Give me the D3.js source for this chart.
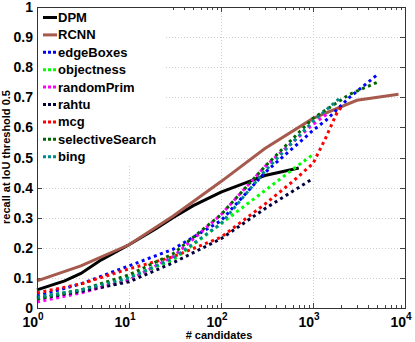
<!DOCTYPE html>
<html>
<head>
<meta charset="utf-8">
<script src="https://cdn.jsdelivr.net/npm/d3@7"></script>
<style>
  body { margin: 0; background: #fff; }
  svg { display: block; font-family: "Liberation Sans", Arial, sans-serif; font-weight: bold; }
  .grid line { stroke: #cfcfcf; stroke-width: 1; stroke-dasharray: 1,2; }
</style>
</head>
<body>
<svg id="chart" width="415" height="342"></svg>
<script>
// recall vs number of candidates
var seriesNames = ['DPM', 'RCNN', 'edgeBoxes', 'objectness', 'randomPrim', 'rahtu', 'mcg', 'selectiveSearch', 'bing'];
var seriesColors = ['#000000', '#a65a4e', '#0000ff', '#00ff00', '#ff00ff', '#00003c', '#ff0000', '#006400', '#008b8b'];
var seriesDotted = [false, false, true, true, true, true, true, true, true];

var candDPM = [1, 2, 3, 5, 10, 20, 30, 50, 100, 200, 300, 500, 700];
var recDPM  = [0.06, 0.09, 0.115, 0.16, 0.21, 0.265, 0.30, 0.34, 0.385, 0.42, 0.44, 0.455, 0.465];
var candRCNN = [1, 3, 10, 30, 100, 300, 1000, 3000, 8500];
var recRCNN  = [0.09, 0.14, 0.21, 0.305, 0.42, 0.53, 0.63, 0.69, 0.71];
var candEdge = [1, 3, 10, 30, 100, 300, 1000, 1400, 2500, 5000];
var recEdge  = [0.04, 0.08, 0.14, 0.195, 0.29, 0.45, 0.59, 0.625, 0.70, 0.775];
var candObj = [1, 3, 10, 30, 100, 300, 600, 1000];
var recObj  = [0.035, 0.06, 0.10, 0.16, 0.28, 0.39, 0.46, 0.51];
var candRP = [1, 3, 10, 30, 100, 300, 1000, 1500];
var recRP  = [0.02, 0.05, 0.093, 0.17, 0.31, 0.47, 0.61, 0.65];
var candRahtu = [1, 3, 10, 30, 100, 300, 1000];
var recRahtu  = [0.03, 0.055, 0.087, 0.15, 0.23, 0.33, 0.43];
var candMCG = [1, 3, 10, 30, 100, 300, 600, 1000, 1350, 1800, 2050];
var recMCG  = [0.05, 0.08, 0.13, 0.17, 0.235, 0.345, 0.42, 0.48, 0.56, 0.645, 0.67];
var candSS = [1, 3, 10, 30, 100, 300, 1000, 2500, 5000];
var recSS  = [0.03, 0.06, 0.11, 0.18, 0.31, 0.47, 0.63, 0.71, 0.75];
var candBing = [1, 3, 10, 30, 100, 300, 1000, 2000];
var recBing  = [0.035, 0.06, 0.10, 0.165, 0.28, 0.455, 0.62, 0.70];

var allCand = [candDPM, candRCNN, candEdge, candObj, candRP, candRahtu, candMCG, candSS, candBing];
var allRec  = [recDPM, recRCNN, recEdge, recObj, recRP, recRahtu, recMCG, recSS, recBing];

var xTickExps = [0, 1, 2, 3, 4];
var yTicks = [0, 0.1, 0.2, 0.3, 0.4, 0.5, 0.6, 0.7, 0.8, 0.9, 1];

(function() {

var svg = d3.select('#chart');
var pL = 37, pR = 405, pT = 7, pB = 308;

var x = d3.scaleLog().domain([1, 1e4]).range([pL, pR]);
var y = d3.scaleLinear().domain([0, 1]).range([pB, pT]);

// grid
var grid = svg.append('g').attr('class', 'grid');
grid.selectAll('.gx').data(xTickExps.slice(1, -1)).enter().append('line')
    .attr('x1', function(d) { return Math.round(x(Math.pow(10, d))) + 0.5; })
    .attr('x2', function(d) { return Math.round(x(Math.pow(10, d))) + 0.5; })
    .attr('y1', pT).attr('y2', pB);
grid.selectAll('.gy').data(yTicks.slice(1, -1)).enter().append('line')
    .attr('y1', function(d) { return Math.round(y(d)) + 0.5; })
    .attr('y2', function(d) { return Math.round(y(d)) + 0.5; })
    .attr('x1', pL).attr('x2', pR);

// minor + major ticks, inward, on all four sides
var minor = [];
for (var e = 0; e < 4; e++) {
    for (var m = 2; m <= 9; m++) minor.push(m * Math.pow(10, e));
}
var ticks = svg.append('g').attr('stroke', '#444').attr('stroke-width', 1);
[pB, pT].forEach(function(yy) {
    var dir = yy === pB ? -1 : 1;
    ticks.append('g').selectAll('line').data(minor).enter().append('line')
        .attr('x1', function(d) { return Math.round(x(d)) + 0.5; })
        .attr('x2', function(d) { return Math.round(x(d)) + 0.5; })
        .attr('y1', yy).attr('y2', yy + dir * 3);
    ticks.append('g').selectAll('line').data(xTickExps).enter().append('line')
        .attr('x1', function(d) { return Math.round(x(Math.pow(10, d))) + 0.5; })
        .attr('x2', function(d) { return Math.round(x(Math.pow(10, d))) + 0.5; })
        .attr('y1', yy).attr('y2', yy + dir * 5);
});
[pL, pR].forEach(function(xx) {
    var dir = xx === pL ? 1 : -1;
    ticks.append('g').selectAll('line').data(yTicks).enter().append('line')
        .attr('y1', function(d) { return Math.round(y(d)) + 0.5; })
        .attr('y2', function(d) { return Math.round(y(d)) + 0.5; })
        .attr('x1', xx).attr('x2', xx + dir * 5);
});

// series
var line = d3.line()
    .x(function(d) { return x(d[0]); })
    .y(function(d) { return y(d[1]); });

seriesNames.forEach(function(name, i) {
    var pts = allCand[i].map(function(c, j) { return [c, allRec[i][j]]; });
    svg.append('path')
        .datum(pts)
        .attr('fill', 'none')
        .attr('stroke', seriesColors[i])
        .attr('stroke-width', 3)
        .attr('stroke-dasharray', seriesDotted[i] ? '3,3.5' : null)
        .attr('d', line);
});

// frame
svg.append('rect')
    .attr('x', pL + 0.5).attr('y', pT + 0.5)
    .attr('width', pR - pL).attr('height', pB - pT)
    .attr('fill', 'none').attr('stroke', '#333');

// y tick labels
svg.append('g').selectAll('text').data(yTicks).enter().append('text')
    .attr('x', 33)
    .attr('y', function(d) { return y(d) + 5; })
    .attr('text-anchor', 'end')
    .attr('font-size', 14)
    .text(function(d) { return d === 0 || d === 1 ? String(d) : d.toFixed(1); });

// x tick labels 10^n
var xl = svg.append('g').selectAll('text').data(xTickExps).enter().append('text')
    .attr('x', function(d) { return x(Math.pow(10, d)) - 4; })
    .attr('y', 327)
    .attr('text-anchor', 'middle')
    .attr('font-size', 14);
xl.append('tspan').text('10');
xl.append('tspan').attr('dy', -7).attr('font-size', 10).text(function(d) { return d; });

// axis titles
svg.append('text')
    .attr('x', 219).attr('y', 339)
    .attr('text-anchor', 'middle')
    .attr('font-size', 11)
    .text('# candidates');
svg.append('text')
    .attr('transform', 'translate(10,157) rotate(-90)')
    .attr('text-anchor', 'middle')
    .attr('font-size', 11)
    .text('recall at IoU threshold 0.5');

// legend
var lg = svg.append('g');
lg.append('rect')
    .attr('x', pL + 1).attr('y', pT + 1)
    .attr('width', 126).attr('height', 157)
    .attr('fill', '#fff');
var rows = lg.selectAll('.row').data(seriesNames).enter().append('g')
    .attr('transform', function(d, i) { return 'translate(0,' + (17.5 + i * 17.4) + ')'; });
rows.append('line')
    .attr('x1', 43).attr('x2', 57)
    .attr('stroke', function(d, i) { return seriesColors[i]; })
    .attr('stroke-width', 3)
    .attr('stroke-dasharray', function(d, i) { return seriesDotted[i] ? '3,2' : null; });
rows.append('text')
    .attr('x', 58).attr('y', 4.5)
    .attr('font-size', 13)
    .text(function(d) { return d; });

})();
</script>
</body>
</html>
